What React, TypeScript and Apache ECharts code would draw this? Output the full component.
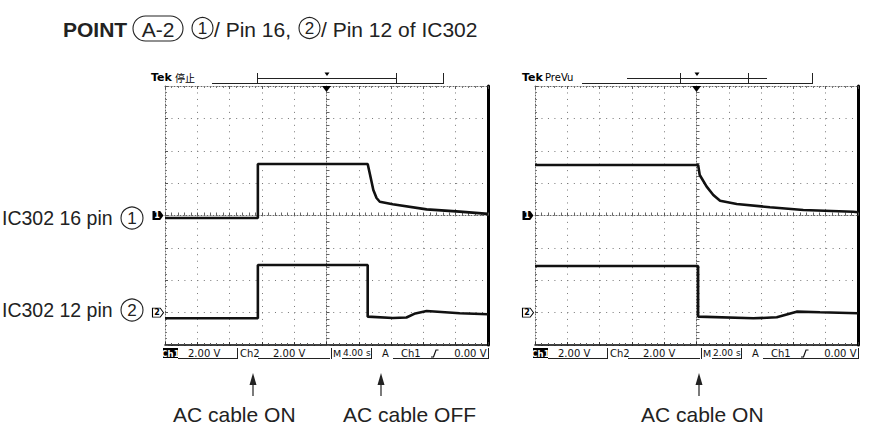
import React, { useEffect, useRef } from "react";
import * as echarts from "echarts";

// ---- data (time in s relative to trigger, volts) ----
const leftTimeRange = [-20, 20]; // M 4.00 s/div
const rightTimeRange = [-10, 10]; // M 2.00 s/div
const leftTimeInterval = 4;
const rightTimeInterval = 2;
const voltRange = [-8, 8]; // 2.00 V/div
const voltInterval = 2;
const ch2Offset = -6; // Ch2 ground 3 divisions below centre

const leftCh1: number[][] = [
  [-20, -0.15], [-8.5, -0.15], [-8.5, 3.18], [5.1, 3.18], [5.4, 2.5], [5.8, 1.58],
  [6.2, 1.08], [6.6, 0.85], [8.2, 0.7], [12.4, 0.38], [16.5, 0.24], [20, 0.1],
];
const leftCh2: number[][] = [
  [-20, -0.35], [-8.5, -0.35], [-8.5, 2.94], [5.1, 2.94], [5.1, -0.25], [8.2, -0.33],
  [9.9, -0.3], [11, -0.05], [12.4, 0.1], [16.5, -0.04], [20, -0.1],
];
const rightCh1: number[][] = [
  [-10, 3.12], [0.1, 3.12], [0.2, 2.5], [0.63, 1.78], [1.04, 1.27], [1.46, 0.91],
  [2.49, 0.71], [4.55, 0.51], [6.61, 0.34], [9.7, 0.23], [10, 0.2],
];
const rightCh2: number[][] = [
  [-10, 2.88], [0.1, 2.88], [0.1, -0.25], [3.52, -0.35], [4.97, -0.29], [6.2, 0.06],
  [7.65, 0.02], [10, -0.04],
];

const statusLeft = ["Ch1", "2.00 V", "Ch2", "2.00 V", "M", "4.00 s", "A", "Ch1", "0.00 V"];
const statusRight = ["Ch1", "2.00 V", "Ch2", "2.00 V", "M", "2.00 s", "A", "Ch1", "0.00 V"];

const SANS = "'Liberation Sans', Arial, Helvetica, sans-serif";
const SCOPE = "'DejaVu Sans', sans-serif";
const SCOPE_C = "'DejaVu Sans Condensed', 'DejaVu Sans', sans-serif";
const DOT = [1, 5.47];

function scopeAxes(g: number, range: number[], interval: number) {
  const xs: any[] = [
    {
      type: "value", gridIndex: g, min: range[0], max: range[1], interval, position: "bottom",
      axisLine: { onZero: false, lineStyle: { color: "#000", width: 1.5 } },
      axisTick: { show: true, inside: true, length: 3, lineStyle: { color: "#333" } },
      minorTick: { show: true, splitNumber: 5, length: 2, lineStyle: { color: "#555" } },
      axisLabel: { show: false },
      splitLine: { show: true, lineStyle: { color: "#777", type: DOT, width: 1 } },
    },
    {
      type: "value", gridIndex: g, min: range[0], max: range[1], interval, position: "top",
      axisLine: { onZero: false, lineStyle: { color: "#666", type: [1, 2], width: 1 } },
      axisTick: { show: true, inside: true, length: 3, lineStyle: { color: "#555" } },
      minorTick: { show: true, splitNumber: 5, length: 2, lineStyle: { color: "#777" } },
      axisLabel: { show: false }, splitLine: { show: false },
    },
    {
      type: "value", gridIndex: g, min: range[0], max: range[1], interval, position: "bottom",
      axisLine: { onZero: true, onZeroAxisIndex: g * 3, lineStyle: { color: "#666", type: [1, 2], width: 1 } },
      axisTick: { show: true, inside: true, length: 3, lineStyle: { color: "#555" } },
      minorTick: { show: true, splitNumber: 5, length: 3, lineStyle: { color: "#666" } },
      axisLabel: { show: false }, splitLine: { show: false },
    },
  ];
  const ys: any[] = [
    {
      type: "value", gridIndex: g, min: voltRange[0], max: voltRange[1], interval: voltInterval, position: "left",
      axisLine: { onZero: false, lineStyle: { color: "#666", type: [1, 2], width: 1 } },
      axisTick: { show: true, inside: true, length: 3, lineStyle: { color: "#555" } },
      minorTick: { show: true, splitNumber: 5, length: 2, lineStyle: { color: "#777" } },
      axisLabel: { show: false },
      splitLine: { show: true, lineStyle: { color: "#777", type: DOT, width: 1 } },
    },
    {
      type: "value", gridIndex: g, min: voltRange[0], max: voltRange[1], interval: voltInterval, position: "right",
      axisLine: { show: true, onZero: false, lineStyle: { color: "#000", width: 3 } },
      axisTick: { show: false }, axisLabel: { show: false }, splitLine: { show: false },
    },
    {
      type: "value", gridIndex: g, min: voltRange[0], max: voltRange[1], interval: voltInterval, position: "left",
      axisLine: { onZero: true, onZeroAxisIndex: g * 3, lineStyle: { color: "#666", type: [1, 2], width: 1 } },
      axisTick: { show: true, inside: true, length: 3, lineStyle: { color: "#555" } },
      minorTick: { show: true, splitNumber: 5, length: 3, lineStyle: { color: "#666" } },
      axisLabel: { show: false }, splitLine: { show: false },
    },
  ];
  return { xs, ys };
}

const markerPath = "path://M0,0 L7,0 L10,4 L7,8 L0,8 Z";

function traceSeries(g: number, data: number[][], offset: number, xmin: number, ch: number) {
  const markData: any[] = [
    {
      coord: [xmin, offset],
      symbol: markerPath,
      symbolSize: [11, 9],
      symbolOffset: [-7, 0],
      itemStyle: ch === 1 ? { color: "#000" } : { color: "#fff", borderColor: "#000", borderWidth: 1 },
      label: {
        show: true, formatter: String(ch), color: ch === 1 ? "#fff" : "#000",
        fontSize: 8, fontWeight: "bold", fontFamily: SCOPE, offset: [-1, 0],
      },
    },
  ];
  if (ch === 1) {
    markData.push({
      coord: [0, voltRange[1]], symbol: "triangle", symbolRotate: 180, symbolSize: [9, 6],
      symbolOffset: [0, 3], itemStyle: { color: "#000" }, label: { show: false },
    });
  }
  return {
    type: "line", xAxisIndex: g * 3, yAxisIndex: g * 3, showSymbol: false, silent: true,
    data: data.map(([t, v]) => [t, v + offset]),
    lineStyle: { color: "#111", width: 2.6 }, z: 5,
    markPoint: { silent: true, data: markData },
  };
}

function txt(x: number, y: number, text: string, size: number, opts: any = {}) {
  return {
    type: "text", x, y, silent: true,
    style: {
      text, fontSize: size, fontFamily: opts.family || SANS, fontWeight: opts.weight || "normal",
      fill: opts.fill || "#222", align: opts.align || "left", verticalAlign: "middle",
    },
  };
}
function ln(x1: number, y1: number, x2: number, y2: number, w = 1, color = "#222") {
  return { type: "line", silent: true, shape: { x1, y1, x2, y2 }, style: { stroke: color, lineWidth: w } };
}
function circ(cx: number, cy: number, r: number, digit: string, size: number) {
  return [
    { type: "circle", silent: true, shape: { cx, cy, r }, style: { fill: "none", stroke: "#222", lineWidth: 1.1 } },
    txt(cx, cy + 0.5, digit, size, { align: "center" }),
  ];
}

function statusBar(ox: number, s: string[]) {
  const y = 353;
  const f = { family: SCOPE, fill: "#111", weight: 500 };
  return [
    { type: "rect", silent: true, shape: { x: 163 + ox, y: 348, width: 15, height: 10 }, style: { fill: "#000" } },
    txt(170.5 + ox, y, s[0], 9.5, { family: SCOPE_C, weight: "bold", fill: "#fff", align: "center" }),
    txt(188 + ox, y, s[1], 10, f),
    ln(178 + ox, 358.5, 237 + ox, 358.5),
    ln(237.5 + ox, 348, 237.5 + ox, 359),
    txt(240 + ox, y, s[2], 10, f),
    ln(258 + ox, 358.5, 330 + ox, 358.5),
    txt(273 + ox, y, s[3], 10, f),
    ln(331.5 + ox, 348, 331.5 + ox, 359),
    txt(333 + ox, y, s[4], 9.5, f),
    ln(342 + ox, 358.5, 371 + ox, 358.5),
    txt(343 + ox, y, s[5], 9, f),
    ln(371.5 + ox, 348, 371.5 + ox, 359),
    txt(382 + ox, y, s[6], 10, f),
    ln(393 + ox, 358.5, 488 + ox, 358.5),
    txt(401 + ox, y, s[7], 10, f),
    { type: "polyline", silent: true, shape: { points: [[431 + ox, 357], [433.5 + ox, 357], [436 + ox, 350], [438.5 + ox, 350]] }, style: { stroke: "#111", lineWidth: 1.2, fill: "none" } },
    txt(486.5 + ox, y, s[8], 10, { ...f, align: "right" }),
    ln(488.5 + ox, 348, 488.5 + ox, 359),
  ];
}

function arrow(x: number) {
  return [
    ln(x, 396, x, 380, 1.2),
    { type: "polygon", silent: true, shape: { points: [[x - 3.5, 385], [x, 373], [x + 3.5, 385]] }, style: { fill: "#222" } },
  ];
}

export default function App() {
  const ref = useRef<HTMLDivElement>(null);
  useEffect(() => {
    if (!ref.current) return;
    const chart = echarts.init(ref.current, undefined, { renderer: "svg" });
    const a0 = scopeAxes(0, leftTimeRange, leftTimeInterval);
    const a1 = scopeAxes(1, rightTimeRange, rightTimeInterval);

    const graphics: any[] = [
      // title
      txt(63, 29, "POINT", 21, { weight: "bold" }),
      { type: "rect", silent: true, shape: { x: 133, y: 16, width: 50, height: 25, r: 12.5 }, style: { fill: "none", stroke: "#222", lineWidth: 1.1 } },
      txt(158, 29, "A-2", 21, { align: "center" }),
      ...circ(202.5, 28, 10.5, "1", 17),
      txt(214, 29, "/ Pin 16,", 21),
      ...circ(309.5, 28, 10.5, "2", 17),
      txt(321, 29, "/ Pin 12 of IC302", 21),
      // left labels
      txt(2, 218, "IC302 16 pin", 19.5),
      ...circ(132, 218, 11, "1", 17),
      txt(2, 310, "IC302 12 pin", 19.5),
      ...circ(132, 310, 11, "2", 17),
      // left scope header
      txt(151, 77, "Tek", 11, { family: SCOPE, weight: "bold", fill: "#000" }),
      txt(175, 77, "停止", 10, { family: "'Noto Sans CJK SC', sans-serif", fill: "#000" }),
      ln(212, 83.5, 443, 83.5),
      ln(443.5, 73, 443.5, 84),
      ln(257, 78.5, 397, 78.5),
      ln(257.5, 73, 257.5, 84),
      ln(396.5, 73, 396.5, 84),
      { type: "polygon", silent: true, shape: { points: [[324.5, 72.5], [329.5, 72.5], [327, 76]] }, style: { fill: "#000" } },
      // right scope header
      txt(522, 77, "Tek", 11, { family: SCOPE, weight: "bold", fill: "#000" }),
      txt(545, 77, "PreVu", 10, { family: SCOPE, fill: "#000" }),
      ln(582, 83.5, 812, 83.5),
      ln(812.5, 73, 812.5, 84),
      ln(627, 78.5, 767, 78.5),
      ln(680.5, 73, 680.5, 84),
      ln(748.5, 73, 748.5, 84),
      { type: "polygon", silent: true, shape: { points: [[694.5, 72.5], [699.5, 72.5], [697, 76]] }, style: { fill: "#000" } },
      // status bars
      ...statusBar(0, statusLeft),
      ...statusBar(370, statusRight),
      // arrows and captions
      ...arrow(253),
      ...arrow(381),
      ...arrow(699),
      txt(173, 414, "AC cable ON", 21),
      txt(343, 414, "AC cable OFF", 21),
      txt(641, 414, "AC cable ON", 21),
    ];

    chart.setOption({
      animation: false,
      backgroundColor: "#fff",
      grid: [
        { left: 165, top: 86, width: 323, height: 259, containLabel: false },
        { left: 535, top: 86, width: 323, height: 259, containLabel: false },
      ],
      xAxis: [...a0.xs, ...a1.xs],
      yAxis: [...a0.ys, ...a1.ys],
      series: [
        traceSeries(0, leftCh1, 0, leftTimeRange[0], 1),
        traceSeries(0, leftCh2, ch2Offset, leftTimeRange[0], 2),
        traceSeries(1, rightCh1, 0, rightTimeRange[0], 1),
        traceSeries(1, rightCh2, ch2Offset, rightTimeRange[0], 2),
      ],
      graphic: graphics,
    });
    return () => chart.dispose();
  }, []);
  return (
    <div
      ref={ref}
      style={{ position: "absolute", left: 0, top: 0, width: 881, height: 429, background: "#fff" }}
    />
  );
}
